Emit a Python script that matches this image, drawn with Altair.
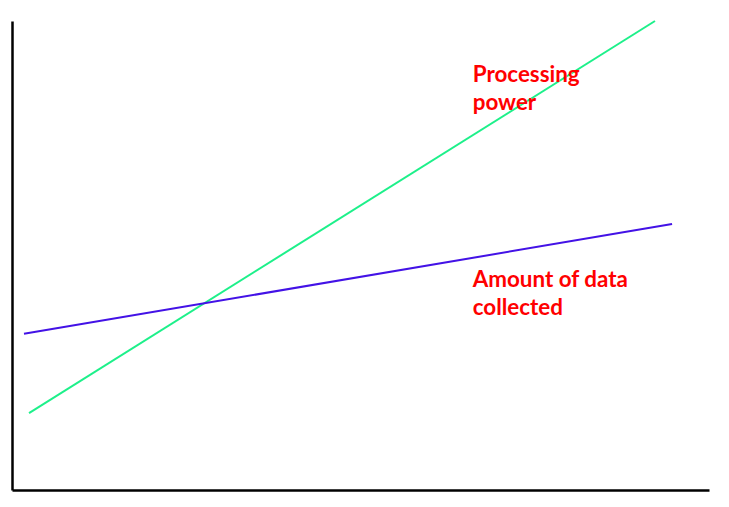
import altair as alt
import pandas as pd

# Lines (abstract units 0-100)
series = ["Processing power", "Processing power", "Amount of data collected", "Amount of data collected"]
xs = [2.44, 92.25, 1.72, 94.7]
ys = [16.4, 100.0, 33.3, 56.7]

label_lines = ["Processing", "power", "Amount of data", "collected"]
label_x = [66.1, 66.1, 66.1, 66.1]
label_y = [87.0, 81.0, 43.3, 37.3]

lines_df = pd.DataFrame({"series": series, "x": xs, "y": ys})
labels_df = pd.DataFrame({"text": label_lines, "x": label_x, "y": label_y})

xscale = alt.Scale(domain=[0, 100], nice=False, zero=False)
yscale = alt.Scale(domain=[0, 100], nice=False, zero=False)
axis = alt.Axis(title=None, labels=False, ticks=False, grid=False,
                domainColor="black", domainWidth=2.5)

lines = alt.Chart(lines_df).mark_line(strokeWidth=2).encode(
    x=alt.X("x:Q", scale=xscale, axis=axis),
    y=alt.Y("y:Q", scale=yscale, axis=axis),
    color=alt.Color("series:N",
                    scale=alt.Scale(domain=["Processing power", "Amount of data collected"],
                                    range=["#1DF08A", "#4312E6"]),
                    legend=None),
    detail="series:N",
)

labels = alt.Chart(labels_df).mark_text(
    align="left", baseline="alphabetic", color="#FF0000",
    font="Lato", fontWeight="bold", fontSize=22.4
).encode(
    x=alt.X("x:Q", scale=xscale),
    y=alt.Y("y:Q", scale=yscale),
    text="text:N",
)

chart = alt.layer(lines, labels).properties(
    width=697, height=469,
    autosize=alt.AutoSizeParams(type="none"),
    padding={"left": 4, "top": 13, "right": 12, "bottom": 9},
).configure_view(stroke=None)

chart.save("out.html", embed_options={"renderer": "svg", "actions": False})
